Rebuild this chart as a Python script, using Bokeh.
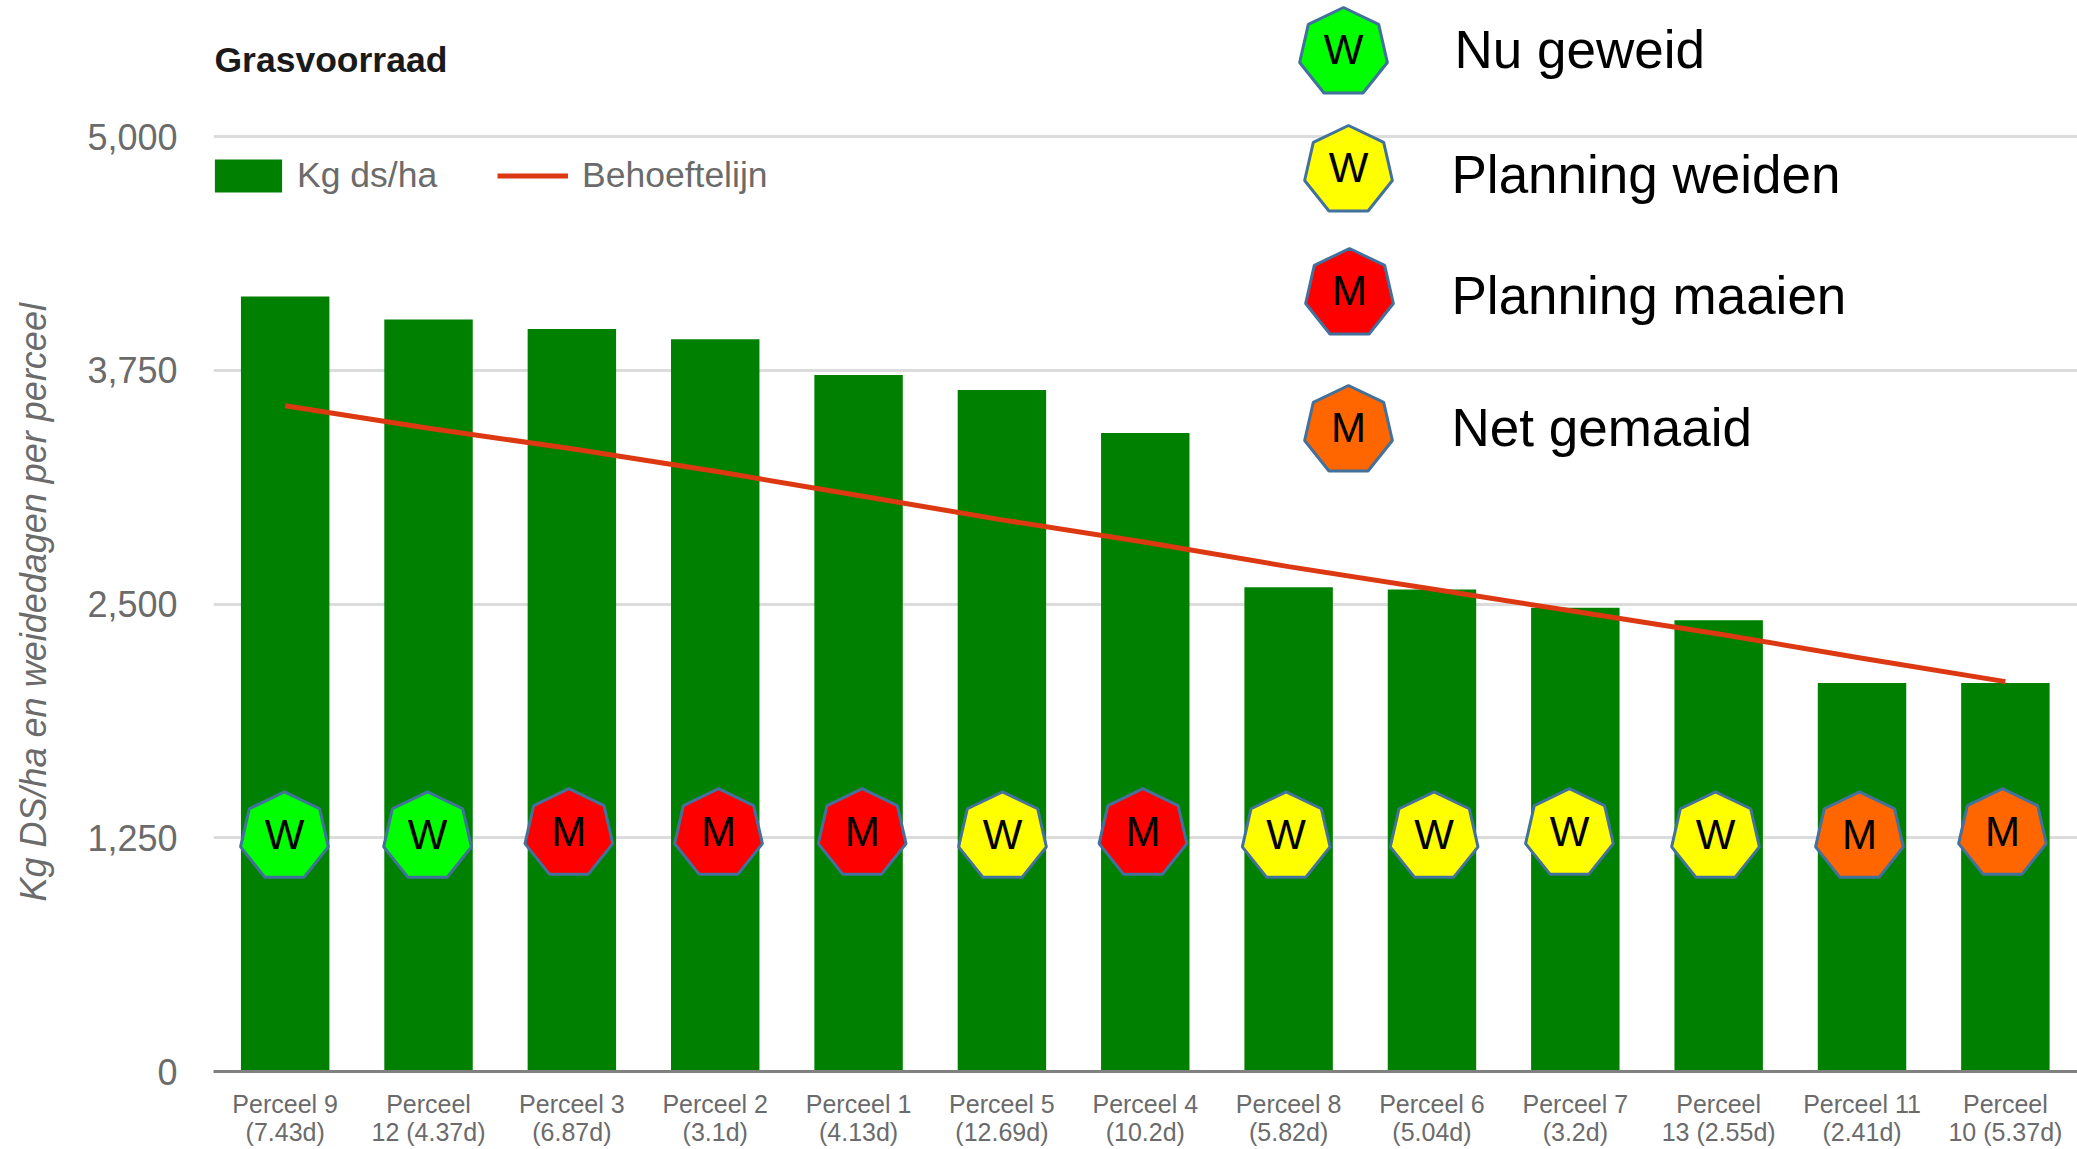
import math
from bokeh.plotting import figure
from bokeh.models import ColumnDataSource, FixedTicker, Range1d, NumeralTickFormatter, Legend, LegendItem, Label, Title
from bokeh.core.properties import value
from bokeh.embed import file_html
from bokeh.resources import INLINE

percelen = ["Perceel 9\n(7.43d)", "Perceel\n12 (4.37d)", "Perceel 3\n(6.87d)", "Perceel 2\n(3.1d)",
            "Perceel 1\n(4.13d)", "Perceel 5\n(12.69d)", "Perceel 4\n(10.2d)", "Perceel 8\n(5.82d)",
            "Perceel 6\n(5.04d)", "Perceel 7\n(3.2d)", "Perceel\n13 (2.55d)", "Perceel 11\n(2.41d)",
            "Perceel\n10 (5.37d)"]
kg_ds_ha = [4144, 4021, 3970, 3916, 3724, 3645, 3415, 2590, 2578, 2480, 2413, 2077, 2077]
behoefte = [3560, 3440, 3330, 3210, 3080, 2950, 2830, 2700, 2580, 2460, 2340, 2210, 2085]
status_letter = ["W", "W", "M", "M", "M", "W", "M", "W", "W", "W", "W", "M", "M"]
status_color = ["#00ff00", "#00ff00", "#ff0000", "#ff0000", "#ff0000", "#ffff00", "#ff0000",
                "#ffff00", "#ffff00", "#ffff00", "#ffff00", "#ff6600", "#ff6600"]
marker_x = [0.495, 1.493, 2.479, 3.523, 4.525, 5.504, 6.484, 7.483, 8.515, 9.459, 10.478, 11.482, 12.48]
marker_y = [1255, 1255, 1272, 1272, 1272, 1255, 1272, 1255, 1255, 1272, 1255, 1255, 1272]
y_ticks = [0, 1250, 2500, 3750, 5000]
key_labels = ["Nu geweid", "Planning weiden", "Planning maaien", "Net gemaaid"]
key_letters = ["W", "W", "M", "M"]
key_colors = ["#00ff00", "#ffff00", "#ff0000", "#ff6600"]

# image pixel -> data conversion for the layout of the annotations
X0, PX_PER_BAND = 213.0, 143.35
Y0, PX_PER_UNIT = 1071.0, 0.187
dx = lambda px: (px - X0) / PX_PER_BAND
dy = lambda px: (Y0 - px) / PX_PER_UNIT

FONT = "Liberation Sans"
GREY = "#6b6b6b"
W, H = 2077, 1149

x = [i + 0.5 for i in range(len(percelen))]
p = figure(width=W, height=H, output_backend="svg", toolbar_location=None,
           x_range=Range1d(0, dx(W)), y_range=Range1d(0, dy(0)),
           min_border_left=213, min_border_right=0, min_border_top=0, min_border_bottom=78)
p.outline_line_color = None
p.background_fill_color = "white"

p.xgrid.visible = False
p.ygrid.grid_line_color = "#dcdcdc"
p.ygrid.grid_line_width = 3

p.xaxis.ticker = FixedTicker(ticks=x)
p.xaxis.major_label_overrides = dict(zip(x, percelen))
p.xaxis.axis_line_color = "#808080"
p.xaxis.axis_line_width = 3
p.xaxis.major_tick_line_color = None
p.xaxis.minor_tick_line_color = None
p.xaxis.major_label_standoff = 12
p.xaxis.major_label_text_font = FONT
p.xaxis.major_label_text_font_size = "25px"
p.xaxis.major_label_text_color = GREY
p.xaxis.major_label_text_line_height = 1.0

p.yaxis.ticker = FixedTicker(ticks=y_ticks)
p.yaxis.formatter = NumeralTickFormatter(format="0,0")
p.yaxis.axis_line_color = None
p.yaxis.major_tick_line_color = None
p.yaxis.minor_tick_line_color = None
p.yaxis.major_label_standoff = 30
p.yaxis.major_label_text_font = FONT
p.yaxis.major_label_text_font_size = "36px"
p.yaxis.major_label_text_color = GREY

# a blank title as a spacer between the tick labels and the rotated axis title
p.add_layout(Title(text=" ", text_font_size="1px", standoff=17), "left")
p.add_layout(Title(text="Kg DS/ha en weidedagen per perceel", align="left", offset=170, standoff=21,
                   text_font=FONT, text_font_size="36px", text_font_style="italic", text_color=GREY), "left")

src = ColumnDataSource(dict(x=x, kg=kg_ds_ha, beh=behoefte))
bars = p.vbar(x="x", top="kg", width=0.617, source=src, fill_color="#008000", line_color=None)
line = p.line(x="x", y="beh", source=src, line_color="#dc3912", line_width=5)

OUTLINE = "#41719c"
def heptagons(xs, ys, colors, letters, lift):
    s = ColumnDataSource(dict(x=xs, y=ys, c=colors, t=letters))
    p.ngon(x="x", y="y", radius=45, radius_units="screen", n=7, angle=0,
           fill_color="c", line_color=OUTLINE, line_width=3, source=s)
    p.text(x="x", y="y", text="t", source=s, text_align="center", text_baseline="middle", y_offset=-lift,
           text_font=value(FONT), text_font_size="42px", text_color="black")

heptagons(marker_x, marker_y, status_color, status_letter, 2)

key_x = [dx(v) for v in (1343, 1348, 1349, 1348)]
key_y = [dy(v) for v in (52, 170, 293, 430)]
heptagons(key_x, key_y, key_colors, key_letters, 3)
p.text(x=[dx(v) for v in (1454, 1451, 1451, 1451)], y=[dy(v) for v in (49, 173.5, 294.5, 427)], text=key_labels,
       text_align="left", text_baseline="middle", text_font=value(FONT),
       text_font_size="53px", text_color="black")

p.add_layout(Label(x=dx(214), y=dy(59), text="Grasvoorraad", text_font=FONT, text_font_size="35.5px",
                   text_font_style="bold", text_color="#1a1a1a", text_align="left", text_baseline="middle"))

def legend(renderer, label, gw, gh, standoff, loc):
    lg = Legend(items=[LegendItem(label=value(label), renderers=[renderer])], location=loc,
                glyph_width=gw, glyph_height=gh, label_standoff=standoff, padding=0, margin=0,
                border_line_color=None, background_fill_alpha=0,
                label_text_font=FONT, label_text_font_size="35.5px", label_text_color=GREY)
    p.add_layout(lg, "center")

legend(bars, "Kg ds/ha", 84, 41, 7, (-7, 875))
legend(line, "Behoeftelijn", 71, 41, 14, (284, 875))

open("out.html", "w").write(file_html(p, INLINE))
